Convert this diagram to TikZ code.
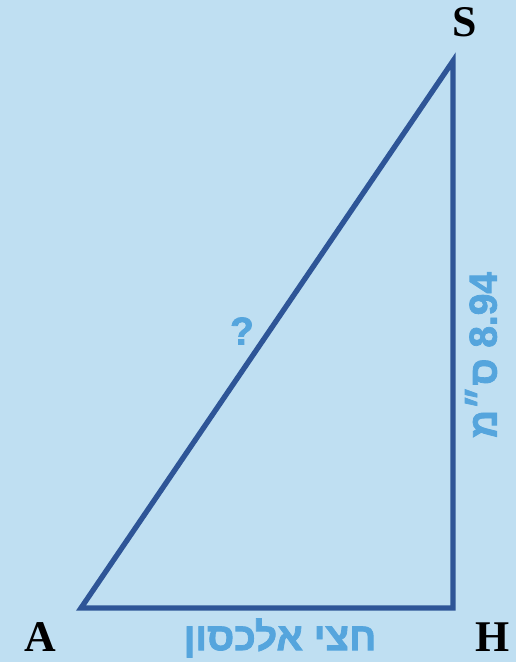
\documentclass[tikz,border=0pt]{standalone}
\usepackage{fontspec}
\setmainfont{Liberation Serif}
\newfontfamily\hebfont[Script=Hebrew,FakeBold=2]{Liberation Sans Bold}
\TeXXeTstate=1
\usetikzlibrary{positioning}
\definecolor{bgblue}{HTML}{BFDFF2}
\definecolor{edgeblue}{HTML}{2E5597}
\definecolor{labblue}{HTML}{55A5DD}
\tikzset{
  vlabel/.style={font=\fontsize{44}{44}\selectfont\bfseries,text=black,inner sep=0pt},
  hlabel/.style={font=\fontsize{39}{39}\selectfont\hebfont,text=labblue,inner sep=0pt},
}
\begin{document}
\begin{tikzpicture}[x=1bp,y=1bp]
  \fill[bgblue] (0,0) rectangle (516,662);
  \useasboundingbox (0,0) rectangle (516,662);
  \coordinate (A) at (81,54);
  \coordinate (H) at (453,54);
  \coordinate (S) at (453,601);
  \draw[edgeblue,line width=5.3bp] (A) -- (H) -- (S) -- cycle;
  \node[vlabel] (labS) at (465,640) {S};
  \node[vlabel] (labA) at (40,25) {A};
  \node[vlabel] (labH) at (493,25) {H};
  \node[hlabel] (half) at (280,24) {\beginR חצי אלכסון\endR};
  \node[hlabel,rotate=90] (side) at (481,307) {\beginR\beginL 8.94\endL{} ס״מ\endR};
  \node[hlabel] (hyp) at (242,331) {?};
\end{tikzpicture}
\end{document}
